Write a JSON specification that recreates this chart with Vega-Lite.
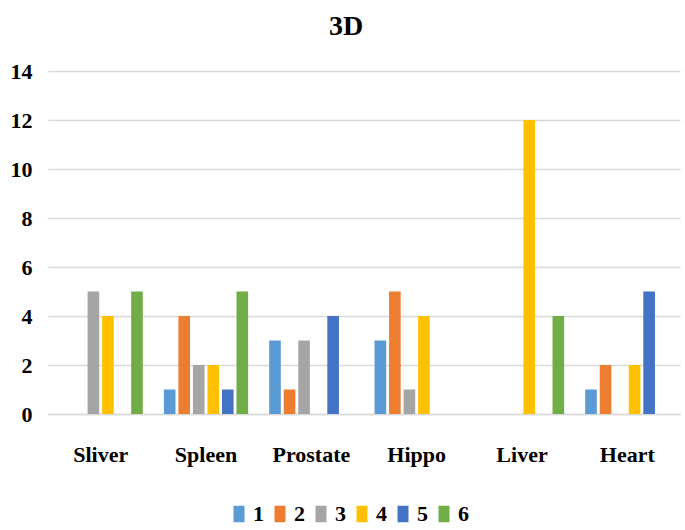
{
  "$schema": "https://vega.github.io/schema/vega-lite/v6.json",
  "width": 632,
  "height": 343,
  "autosize": {"type": "none"},
  "padding": {"left": 48, "top": 71, "right": 5, "bottom": 116},
  "background": "white",
  "title": {"text": "3D", "font": "Liberation Serif, Times New Roman, serif", "fontSize": 28, "fontWeight": "bold", "color": "#000000", "offset": 19, "dx": -18},
  "config": {"view": {"stroke": null}},
  "data": {"values": [
    {"organ": "Sliver", "series": "1", "value": 0},
    {"organ": "Sliver", "series": "2", "value": 0},
    {"organ": "Sliver", "series": "3", "value": 5},
    {"organ": "Sliver", "series": "4", "value": 4},
    {"organ": "Sliver", "series": "5", "value": 0},
    {"organ": "Sliver", "series": "6", "value": 5},
    {"organ": "Spleen", "series": "1", "value": 1},
    {"organ": "Spleen", "series": "2", "value": 4},
    {"organ": "Spleen", "series": "3", "value": 2},
    {"organ": "Spleen", "series": "4", "value": 2},
    {"organ": "Spleen", "series": "5", "value": 1},
    {"organ": "Spleen", "series": "6", "value": 5},
    {"organ": "Prostate", "series": "1", "value": 3},
    {"organ": "Prostate", "series": "2", "value": 1},
    {"organ": "Prostate", "series": "3", "value": 3},
    {"organ": "Prostate", "series": "4", "value": 0},
    {"organ": "Prostate", "series": "5", "value": 4},
    {"organ": "Prostate", "series": "6", "value": 0},
    {"organ": "Hippo", "series": "1", "value": 3},
    {"organ": "Hippo", "series": "2", "value": 5},
    {"organ": "Hippo", "series": "3", "value": 1},
    {"organ": "Hippo", "series": "4", "value": 4},
    {"organ": "Hippo", "series": "5", "value": 0},
    {"organ": "Hippo", "series": "6", "value": 0},
    {"organ": "Liver", "series": "1", "value": 0},
    {"organ": "Liver", "series": "2", "value": 0},
    {"organ": "Liver", "series": "3", "value": 0},
    {"organ": "Liver", "series": "4", "value": 12},
    {"organ": "Liver", "series": "5", "value": 0},
    {"organ": "Liver", "series": "6", "value": 4},
    {"organ": "Heart", "series": "1", "value": 1},
    {"organ": "Heart", "series": "2", "value": 2},
    {"organ": "Heart", "series": "3", "value": 0},
    {"organ": "Heart", "series": "4", "value": 2},
    {"organ": "Heart", "series": "5", "value": 5},
    {"organ": "Heart", "series": "6", "value": 0}
  ]},
  "mark": {"type": "bar"},
  "encoding": {
    "x": {
      "field": "organ", "type": "nominal",
      "sort": ["Sliver", "Spleen", "Prostate", "Hippo", "Liver", "Heart"],
      "scale": {"paddingInner": 0.2, "paddingOuter": 0.1},
      "axis": {"title": null, "labelAngle": 0, "ticks": false, "domain": true, "domainColor": "#d9d9d9", "domainWidth": 1.5,
        "labelFont": "Liberation Serif, Times New Roman, serif", "labelFontSize": 22, "labelFontWeight": "bold", "labelColor": "#000000", "labelPadding": 30}
    },
    "xOffset": {"field": "series", "type": "nominal", "scale": {"domain": ["1","2","3","4","5","6"], "paddingInner": 0.2}},
    "y": {
      "field": "value", "type": "quantitative",
      "scale": {"domain": [0, 14]},
      "axis": {"title": null, "values": [0,2,4,6,8,10,12,14], "ticks": false, "domain": false, "gridColor": "#d9d9d9", "gridWidth": 1.5,
        "labelFont": "Liberation Serif, Times New Roman, serif", "labelFontSize": 22, "labelFontWeight": "bold", "labelColor": "#000000", "labelPadding": 16}
    },
    "color": {
      "field": "series", "type": "nominal",
      "scale": {"domain": ["1","2","3","4","5","6"], "range": ["#5B9BD5","#ED7D31","#A5A5A5","#FFC000","#4472C4","#70AD47"]},
      "legend": {"title": null, "orient": "none", "direction": "horizontal", "legendX": 180, "legendY": 432,
        "symbolType": "M -1 -1.5 L 1 -1.5 L 1 1.5 L -1 1.5 Z", "symbolSize": 121, "symbolStrokeWidth": 0,
        "labelFont": "Liberation Serif, Times New Roman, serif", "labelFontSize": 22, "labelFontWeight": "bold", "labelColor": "#000000",
        "labelOffset": 3, "columnPadding": 5}
    }
  }
}
